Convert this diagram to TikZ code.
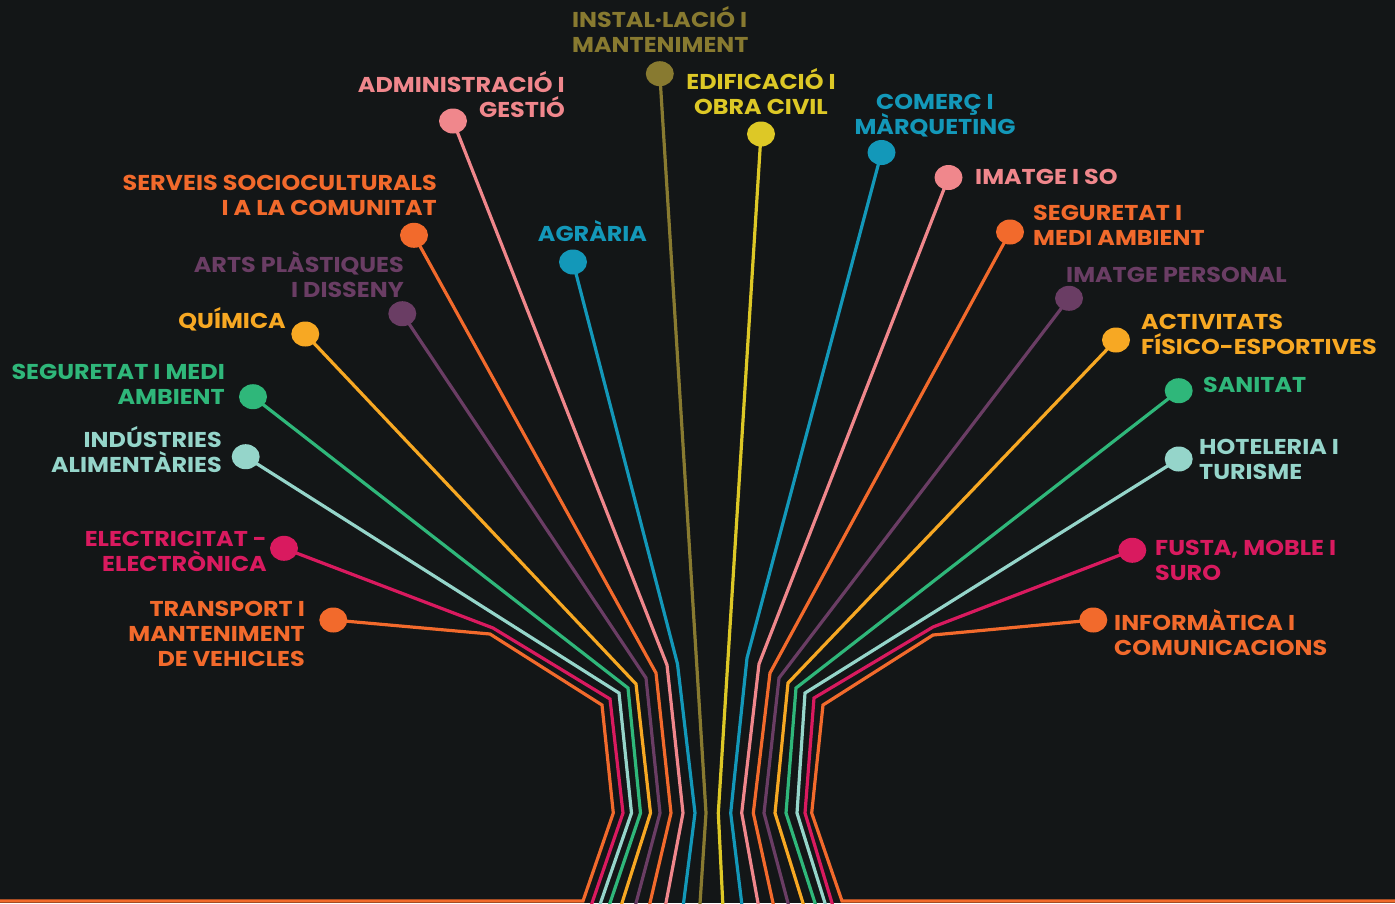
\documentclass[tikz,border=0pt]{standalone}
\usepackage{fontspec}
\setmainfont{Poppins}[FakeStretch=1.11]
\usetikzlibrary{shapes.geometric}
\definecolor{bg}{HTML}{131617}
\definecolor{corange}{HTML}{F26A2C}
\definecolor{cmag}{HTML}{D91A5F}
\definecolor{cteal}{HTML}{95D5CA}
\definecolor{cgreen}{HTML}{2FB77A}
\definecolor{cyor}{HTML}{F7A823}
\definecolor{cpurp}{HTML}{6A3D64}
\definecolor{cpink}{HTML}{F0878C}
\definecolor{cblue}{HTML}{1398B9}
\definecolor{colive}{HTML}{887A30}
\definecolor{cyel}{HTML}{DDC826}
\newcommand\labelfontx{\bfseries\fontsize{21.5}{25}\selectfont\setlength{\lineskiplimit}{-30pt}\relax}
\pgfdeclarelayer{back}
\pgfsetlayers{back,main}
\begin{document}
\begin{tikzpicture}[x=1pt,y=-1pt,
  branch/.style={draw=#1, line width=3.2pt, line join=miter},
  dot/.style={ellipse, fill=#1, minimum width=28pt, minimum height=25pt, inner sep=0pt},
  lab/.style={text=#1, font=\labelfontx, inner sep=0pt},
  labL/.style={lab=#1, anchor=base east, align=right},
  labR/.style={lab=#1, anchor=base west, align=left},
  labC/.style={lab=#1, anchor=base, align=center}]
\useasboundingbox (0,0) rectangle (1395,903);
\clip (0,0) rectangle (1395,903);
% dots
\node[dot=corange] (dTR) at (333.3,620) {};
\node[dot=cmag]    (dEE) at (284,548.3) {};
\node[dot=cteal]   (dIA) at (245.7,456.7) {};
\node[dot=cgreen]  (dSL) at (253,396.7) {};
\node[dot=cyor]    (dQU) at (305.3,334) {};
\node[dot=cpurp]   (dAP) at (402.3,313.7) {};
\node[dot=corange] (dSS) at (414,235.3) {};
\node[dot=cpink]   (dAD) at (453,121) {};
\node[dot=cblue]   (dAG) at (573,262) {};
\node[dot=colive]  (dIN) at (659.8,73.7) {};
\node[dot=cyel]    (dED) at (761,134) {};
\node[dot=cblue]   (dCO) at (881.5,152.5) {};
\node[dot=cpink]   (dIS) at (948.5,177.5) {};
\node[dot=corange] (dSR) at (1010,232) {};
\node[dot=cpurp]   (dIP) at (1069,298.3) {};
\node[dot=cyor]    (dAF) at (1116,340) {};
\node[dot=cgreen]  (dSA) at (1178.7,390.7) {};
\node[dot=cteal]   (dHT) at (1178.7,459) {};
\node[dot=cmag]    (dFM) at (1132.3,550.3) {};
\node[dot=corange] (dIC) at (1093.3,620) {};
% labels (anchor = baseline of the last line)
\node[labR=colive] (tIN) at (572,52) {INSTAL·LACIÓ I\\MANTENIMENT};
\node[labL=cpink] (tAD) at (565,117) {ADMINISTRACIÓ I\\GESTIÓ};
\node[labC=cyel] (tED) at (761,114) {EDIFICACIÓ I\\OBRA CIVIL};
\node[labC=cblue] (tCO) at (935,134) {COMERÇ I\\MÀRQUETING};
\node[labR=cpink] (tIS) at (975,184) {IMATGE I SO};
\node[labR=corange] (tSR) at (1033,245) {SEGURETAT I\\MEDI AMBIENT};
\node[labR=cpurp] (tIP) at (1066,282) {IMATGE PERSONAL};
\node[labR=cyor] (tAF) at (1141,354) {ACTIVITATS\\FÍSICO-ESPORTIVES};
\node[labR=cgreen] (tSA) at (1203,392) {SANITAT};
\node[labR=cteal] (tHT) at (1199,479) {HOTELERIA I\\TURISME};
\node[labR=cmag] (tFM) at (1155,580) {FUSTA, MOBLE I\\SURO};
\node[labR=corange] (tIC) at (1114,655) {INFORMÀTICA I\\COMUNICACIONS};
\node[labL=corange] (tSS) at (437,215) {SERVEIS SOCIOCULTURALS\\I A LA COMUNITAT};
\node[labC=cblue] (tAG) at (592.5,241) {AGRÀRIA};
\node[labL=cpurp] (tAP) at (404,297) {ARTS PLÀSTIQUES\\I DISSENY};
\node[labL=cyor] (tQU) at (286,328) {QUÍMICA};
\node[labL=cgreen] (tSL) at (225,404) {SEGURETAT I MEDI\\AMBIENT};
\node[labL=cteal] (tIA) at (222,472) {INDÚSTRIES\\ALIMENTÀRIES};
\node[labL=cmag] (tEE) at (267,571) {ELECTRICITAT -\\ELECTRÒNICA};
\node[labL=corange] (tTR) at (305,666) {TRANSPORT I\\MANTENIMENT\\DE VEHICLES};
\begin{pgfonlayer}{back}
\fill[bg] (0,0) rectangle (1395,903);
% left branches
\draw[branch=corange] (dTR.center) -- (490,634) -- (602,705) -- (613.3,813) -- (583,901) -- (-10,901);
\draw[branch=cmag]    (dEE.center) -- (493,628) -- (610,699) -- (623,813) -- (590.3,908);
\draw[branch=cteal]   (dIA.center) -- (619,693) -- (631.5,813) -- (598.8,908);
\draw[branch=cgreen]  (dSL.center) -- (628,688) -- (640.5,813) -- (608.3,908);
\draw[branch=cyor]    (dQU.center) -- (636,684) -- (650.5,813) -- (620.4,908);
\draw[branch=cpurp]   (dAP.center) -- (646,678) -- (660,813) -- (634.7,908);
\draw[branch=corange] (dSS.center) -- (656,673) -- (671,813) -- (648.8,908);
\draw[branch=cpink]   (dAD.center) -- (667,665) -- (683,813) -- (665,908);
\draw[branch=cblue]   (dAG.center) -- (677.5,664) -- (695,813) -- (682.9,908);
\draw[branch=colive]  (dIN.center) -- (706,813) -- (699.7,908);
% right branches
\draw[branch=cyel]    (dED.center) -- (718.3,813) -- (723,908);
\draw[branch=cblue]   (dCO.center) -- (747,658) -- (730.7,813) -- (742.3,908);
\draw[branch=cpink]   (dIS.center) -- (759,664) -- (741.7,813) -- (758.9,908);
\draw[branch=corange] (dSR.center) -- (770,673) -- (753.3,813) -- (774.1,908);
\draw[branch=cpurp]   (dIP.center) -- (779,678) -- (764,813) -- (789.3,908);
\draw[branch=cyor]    (dAF.center) -- (788,683) -- (775,813) -- (804.5,908);
\draw[branch=cgreen]  (dSA.center) -- (796,688) -- (786,813) -- (816.6,908);
\draw[branch=cteal]   (dHT.center) -- (805,693) -- (797,813) -- (826.5,908);
\draw[branch=cmag]    (dFM.center) -- (933,627) -- (814,698) -- (805,813) -- (833.5,908);
\draw[branch=corange] (dIC.center) -- (933,635) -- (823,705) -- (811.7,813) -- (842,901) -- (1410,901);
\end{pgfonlayer}
\end{tikzpicture}
\end{document}
